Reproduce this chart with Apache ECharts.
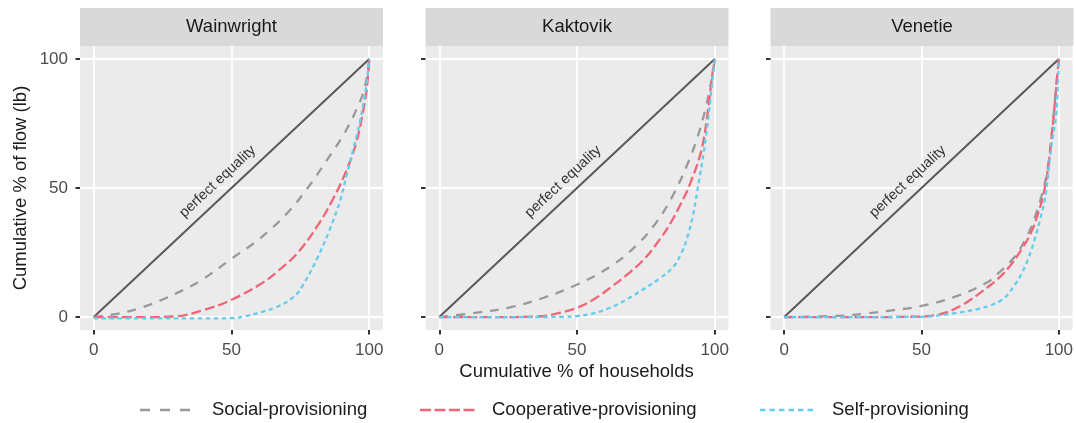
<!DOCTYPE html>
<html>
<head>
<meta charset="utf-8">
<script src="https://cdn.jsdelivr.net/npm/echarts@6/dist/echarts.min.js"></script>
<style>
html,body{margin:0;padding:0;background:#fff;}
#chart{width:1076px;height:423px;}
</style>
</head>
<body>
<div id="chart"></div>
<script>
// ---- Data ----
const towns = ['Wainwright', 'Kaktovik', 'Venetie'];
const seriesNames = ['Social-provisioning', 'Cooperative-provisioning', 'Self-provisioning'];
const tickValues = [0, 50, 100];
const equalityLine = [[0, 0], [100, 100]];
const equalityLabel = 'perfect equality';
const equalityLabelPos = [45, 52.5];

// Wainwright
const wainwrightSocial = [[0,0],[10,1.6],[18,3.9],[25,6.8],[30,9.2],[38.6,14],[50,22.6],[60.4,30.5],[70,40],[77.3,49.5],[84.5,60.6],[90.6,70.5],[95.4,80.5],[98.4,89],[100,100]];
const wainwrightCoop = [[0,0],[10,0],[20,0],[30,0.3],[40,2.8],[50,6.7],[61.6,13.5],[67,18],[73.7,24.5],[81,35],[87,46],[91.8,57],[95.4,68],[98,81],[99.3,90],[100,100]];
const wainwrightSelf = [[0,-0.5],[20,-0.5],[40,-0.5],[50,-0.4],[55,0.3],[60,1.7],[66.4,3.9],[72.5,7.7],[76,12.5],[81,22.5],[85.7,34],[89.4,45],[91.8,55],[94.2,65],[96.6,75.5],[99,90],[100,100]];

// Kaktovik
const kaktovikSocial = [[0,0],[13.6,1.7],[25.7,3.8],[37.9,7.5],[50,12.6],[62,19.5],[71.8,28],[79,37],[85,47.5],[90,59],[93.7,69.5],[96.7,81],[99,92.5],[100,100]];
const kaktovikCoop = [[0,0],[20,0],[35,0.2],[42,1.2],[50,3.6],[56,6.8],[62,11.3],[68,16.3],[74,22],[80,30],[84,36.5],[88,44.5],[91,51.5],[95,64],[97.3,78],[99,93],[100,100]];
const kaktovikSelf = [[0,0],[25,0],[45,0.1],[50,0.4],[55,1.2],[62,3.6],[68,6.8],[74,10.7],[80,15],[85,19.5],[88,25],[90,30.7],[92,39],[93.7,49],[96.7,69],[99,90],[100,100]];

// Venetie
const venetieSocial = [[0,0],[20,0.5],[30,1.4],[40,2.7],[50,4.3],[62,7.8],[74,13.5],[78,17],[84,23.5],[88,30.5],[90,35],[93.6,46.5],[96,58],[97.8,75],[99,89],[100,100]];
const venetieCoop = [[0,0],[25,0],[50,0.2],[55,0.7],[59,1.8],[64,4.2],[68,6.8],[74,11.5],[78,15],[82,19.5],[86.3,26],[90,33],[92.4,40],[94.5,48],[96,57],[97.4,70],[98.4,81],[99.4,93],[100,100]];
const venetieSelf = [[0,0],[25,0],[50,0.1],[56,0.6],[62,1.5],[70,3],[75,4.5],[79,6.5],[81.5,8.8],[84,12.5],[86.3,16.5],[89,23],[91,29.4],[93,37],[94.8,45],[96,54],[97.2,65.5],[99,78],[99.6,88],[100,100]];

const townCurves = [
  [wainwrightSocial, wainwrightCoop, wainwrightSelf],
  [kaktovikSocial, kaktovikCoop, kaktovikSelf],
  [venetieSocial, venetieCoop, venetieSelf]
];

// ---- Styling ----
const FONT = "'Liberation Sans', Arial, sans-serif";
const curveStyles = [
  { color: '#999999', type: [9, 8] },
  { color: '#ee6677', type: [10, 4] },
  { color: '#66ccee', type: [4.5, 3.5] }
];
const legendKeys = [
  { x1: 140, x2: 192, textX: 212 },
  { x1: 420, x2: 477, textX: 492 },
  { x1: 760, x2: 817, textX: 832 }
];
const legendY = 410;
const panelLefts = [80, 425.5, 770.5];
const panelWidth = 303;
const panelTop = 46;
const panelHeight = 284;

const grids = [], xAxes = [], yAxes = [], series = [], graphics = [];

panelLefts.forEach((left, i) => {
  grids.push({
    left: left, top: panelTop, width: panelWidth, height: panelHeight,
    show: true, backgroundColor: '#ebebeb', borderWidth: 0, containLabel: false
  });
  xAxes.push({
    type: 'value', gridIndex: i, min: -5, max: 105, position: 'bottom',
    axisLine: { show: false, onZero: false },
    axisTick: { show: true, length: 4.5, inside: false, customValues: tickValues, lineStyle: { color: '#333333', width: 2 } },
    axisLabel: { show: true, customValues: tickValues, color: '#4d4d4d', fontSize: 17, fontFamily: FONT, margin: 12 },
    splitLine: { show: true, lineStyle: { color: '#ffffff', width: 1.8 } }
  });
  yAxes.push({
    type: 'value', gridIndex: i, min: -5, max: 105, position: 'left',
    axisLine: { show: false, onZero: false },
    axisTick: { show: true, length: 4.5, inside: false, customValues: tickValues, lineStyle: { color: '#333333', width: 2 } },
    axisLabel: { show: i === 0, customValues: tickValues, color: '#4d4d4d', fontSize: 17, fontFamily: FONT, margin: 12 },
    splitLine: { show: true, lineStyle: { color: '#ffffff', width: 1.8 } },
    name: i === 0 ? 'Cumulative % of flow (lb)' : '',
    nameLocation: 'middle', nameGap: 50,
    nameTextStyle: { color: '#1a1a1a', fontSize: 18.5, fontFamily: FONT }
  });

  // perfect equality line
  series.push({
    type: 'line', xAxisIndex: i, yAxisIndex: i, data: equalityLine,
    symbol: 'none', silent: true, z: 2,
    lineStyle: { color: '#595959', width: 2, type: 'solid' }
  });
  // curves
  townCurves[i].forEach((d, k) => {
    series.push({
      name: seriesNames[k], type: 'line', xAxisIndex: i, yAxisIndex: i,
      data: d, symbol: 'none', smooth: 0.4, z: 3 + k,
      itemStyle: { color: curveStyles[k].color },
      lineStyle: { color: curveStyles[k].color, width: 2.3, type: curveStyles[k].type }
    });
  });
  // label
  series.push({
    type: 'scatter', xAxisIndex: i, yAxisIndex: i, data: [equalityLabelPos],
    symbolSize: 1, itemStyle: { color: 'rgba(0,0,0,0)' }, silent: true, z: 10,
    label: { show: true, position: 'inside', formatter: equalityLabel, rotate: 43,
             color: '#000000', fontSize: 14.5, fontFamily: FONT }
  });

  // strip
  graphics.push({
    type: 'rect', left: left, top: 8, shape: { width: panelWidth, height: 38 },
    style: { fill: '#d9d9d9' }, silent: true
  });
  graphics.push({
    type: 'text', x: left + panelWidth / 2, y: 27,
    style: { text: towns[i], fill: '#1a1a1a', font: '18.5px ' + FONT, textAlign: 'center', textVerticalAlign: 'middle' },
    silent: true
  });
});

graphics.push({
  type: 'text', x: 576.5, y: 372,
  style: { text: 'Cumulative % of households', fill: '#1a1a1a', font: '18.5px ' + FONT, textAlign: 'center', textVerticalAlign: 'middle' },
  silent: true
});

// legend (drawn as keys + texts)
legendKeys.forEach((k, j) => {
  graphics.push({
    type: 'line', shape: { x1: k.x1, y1: legendY, x2: k.x2, y2: legendY },
    style: { stroke: curveStyles[j].color, lineWidth: 2.3, lineDash: j === 0 ? [10, 10] : (j === 1 ? [11, 3.5] : [5.5, 4]) },
    silent: true
  });
  graphics.push({
    type: 'text', x: k.textX, y: legendY,
    style: { text: seriesNames[j], fill: '#1a1a1a', font: '18.5px ' + FONT, textAlign: 'left', textVerticalAlign: 'middle' },
    silent: true
  });
});

const chart = echarts.init(document.getElementById('chart'), null, { renderer: 'canvas' });
chart.setOption({
  animation: false,
  grid: grids,
  xAxis: xAxes,
  yAxis: yAxes,
  series: series,
  graphic: graphics
});
</script>
</body>
</html>
